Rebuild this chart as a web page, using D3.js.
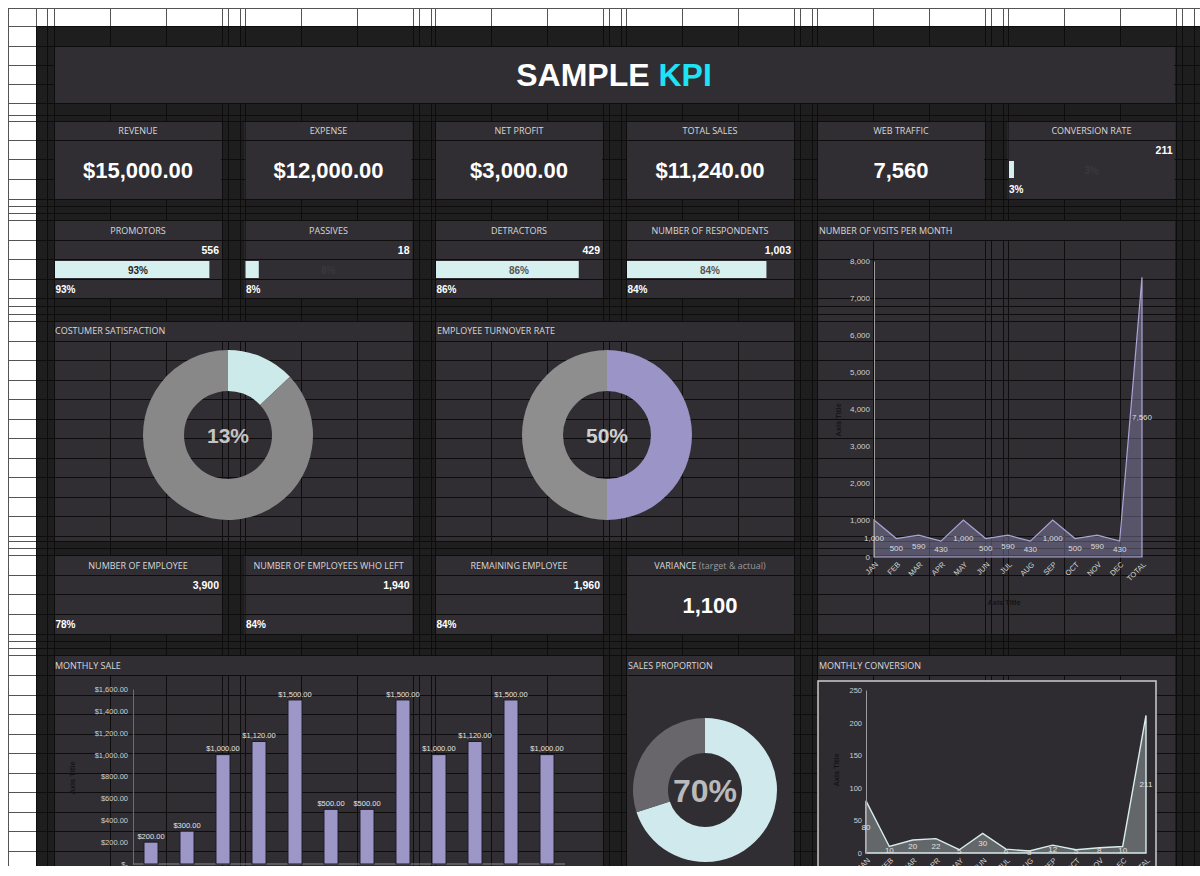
<!DOCTYPE html>
<html>
<head>
<meta charset="utf-8">
<script src="https://cdn.jsdelivr.net/npm/d3@7.9.0/dist/d3.min.js"></script>
<style>
  html, body { margin: 0; padding: 0; background: #fff; }
  svg { display: block; }
</style>
</head>
<body>
<svg id="chart" width="1200" height="876"></svg>
<script>
// ---- data ----
const months = ['JAN', 'FEB', 'MAR', 'APR', 'MAY', 'JUN', 'JUL', 'AUG', 'SEP', 'OCT', 'NOV', 'DEC'];
const trendCats = [...months, 'TOTAL'];

const headTitles = ['REVENUE', 'EXPENSE', 'NET PROFIT', 'TOTAL SALES', 'WEB TRAFFIC'];
const headValues = [15000, 12000, 3000, 11240, 7560];
const conversionCount = 211;
const conversionRate = 0.03;

const surveyTitles = ['PROMOTORS', 'PASSIVES', 'DETRACTORS', 'NUMBER OF RESPONDENTS'];
const surveyCounts = [556, 18, 429, 1003];
const surveyRates = [0.93, 0.08, 0.86, 0.84];

const staffTitles = ['NUMBER OF EMPLOYEE', 'NUMBER OF EMPLOYEES WHO LEFT', 'REMAINING EMPLOYEE'];
const staffCounts = [3900, 1940, 1960];
const staffRates = [0.78, 0.84, 0.84];
const variance = 1100;

const satisfaction = 0.13;
const turnover = 0.50;
const salesShare = 0.70;

const visits = [1000, 500, 590, 430, 1000, 500, 590, 430, 1000, 500, 590, 430, 7560];
const conversions = [80, 10, 20, 22, 5, 30, 6, 3, 12, 5, 8, 10, 211];
const monthlySales = [200, 300, 1000, 1120, 1500, 500, 500, 1500, 1000, 1120, 1500, 1000];

// ---- layout ----
const W = 1200, H = 876, BOTTOM = 866;
const FONT_T = "'Open Sans', 'DejaVu Sans', sans-serif";
const FONT_B = "'Liberation Sans', Arial, sans-serif";
const PANEL = '#302e33';
const cardX = [54, 244.5, 435, 626, 817, 1007.5];
const cardW = 168;

const hLines = [26, 46, 65, 84, 103, 115, 121, 140, 159, 179, 199, 206, 213, 220, 240, 259, 279, 298, 306,
  314, 321, 341, 360, 380, 399, 419, 438, 458, 477, 497, 516, 536, 541, 548, 555, 575, 594, 614, 634,
  641, 648, 655, 675, 695, 714, 734, 753, 773, 792, 812, 831, 851];
const vLines = [36, 47];
cardX.forEach(s => [0, 56, 112, 168, 174, 186].forEach(o => vLines.push(Math.round(s + o))));

const svg = d3.select('#chart');
svg.append('rect').attr('width', W).attr('height', H).attr('fill', '#fff');
svg.append('rect').attr('x', 36).attr('y', 26).attr('width', W - 36).attr('height', BOTTOM - 26).attr('fill', '#1e1e1e');

// sheet lines in the white margins
const sheet = svg.append('g').attr('stroke', '#555').attr('shape-rendering', 'crispEdges');
sheet.append('line').attr('x1', 8).attr('x2', W).attr('y1', 8).attr('y2', 8);
sheet.append('line').attr('x1', 8).attr('x2', 8).attr('y1', 8).attr('y2', BOTTOM);
hLines.forEach(y => sheet.append('line').attr('x1', 8).attr('x2', 36).attr('y1', y).attr('y2', y));
vLines.forEach(x => sheet.append('line').attr('x1', x).attr('x2', x).attr('y1', 8).attr('y2', 26));

// panels (cell fills)
const panels = [
  [54, 46, 1121, 57],
  ...cardX.map(s => [s, 121, cardW, 78]),
  ...cardX.slice(0, 4).map(s => [s, 220, cardW, 78]),
  [817, 220, 358, 414],
  [54, 321, 359, 220], [435, 321, 360, 220],
  ...cardX.slice(0, 4).map(s => [s, 555, cardW, 79]),
  [54, 655, 550, BOTTOM - 655], [626, 655, cardW, BOTTOM - 655], [817, 655, 358, BOTTOM - 655]
];
svg.append('g').selectAll('rect').data(panels).join('rect')
  .attr('x', d => d[0]).attr('y', d => d[1]).attr('width', d => d[2]).attr('height', d => d[3])
  .attr('fill', PANEL);

// cell borders over everything
const grid = svg.append('g').attr('stroke', '#0d0d0d').attr('shape-rendering', 'crispEdges');
hLines.forEach(y => grid.append('line').attr('x1', 36).attr('x2', W).attr('y1', y).attr('y2', y));
vLines.forEach(x => grid.append('line').attr('x1', x).attr('x2', x).attr('y1', 26).attr('y2', BOTTOM));

// merged cells hide the inner borders
function merged(x, w, rows) {
  rows.forEach(([y0, y1]) => svg.append('rect')
    .attr('x', x + 1).attr('y', y0 + 1).attr('width', w - 2).attr('height', y1 - y0 - 1)
    .attr('fill', PANEL));
}
merged(54, 1121, [[46, 103]]);
cardX.forEach(s => merged(s, cardW, [[121, 140], [140, 199]]));
cardX.slice(0, 4).forEach(s => merged(s, cardW, [[220, 240], [240, 259], [259, 279], [279, 298]]));
merged(817, 358, [[220, 240]]);
merged(54, 359, [[321, 341]]);
merged(435, 360, [[321, 341]]);
cardX.slice(0, 3).forEach(s => merged(s, cardW, [[555, 575], [575, 594], [594, 614], [614, 634]]));
merged(cardX[3], cardW, [[555, 575], [575, 634]]);
merged(54, 550, [[655, 675]]);
merged(626, cardW, [[655, 675], [675, BOTTOM]]);
merged(817, 358, [[655, 675]]);

// text helper
function label(x, y, s, o = {}) {
  return svg.append('text').attr('x', x).attr('y', y).attr('dy', '0.35em')
    .attr('text-anchor', o.anchor || 'start')
    .attr('font-family', o.font || FONT_T)
    .attr('font-size', o.size || 9)
    .attr('font-weight', o.weight || 'normal')
    .attr('fill', o.fill || '#d8d8d8')
    .text(s);
}

// title
const t = svg.append('text').attr('x', 614).attr('y', 75).attr('dy', '0.35em').attr('text-anchor', 'middle')
  .attr('font-family', FONT_B).attr('font-weight', 'bold').attr('font-size', 32);
t.append('tspan').attr('fill', '#ffffff').text('SAMPLE ');
t.append('tspan').attr('fill', '#1de3f4').text('KPI');

const money = d3.format('$,.2f');
const num = d3.format(',');
const pct = d3.format('.0%');
const barW = d3.scaleLinear().domain([0, 1]).range([0, cardW - 2]);

// row 1
headTitles.forEach((name, i) => {
  const s = cardX[i];
  label(s + cardW / 2, 130.5, name, { anchor: 'middle' });
  label(s + cardW / 2, 170, i < 4 ? money(headValues[i]) : num(headValues[i]),
    { anchor: 'middle', font: FONT_B, weight: 'bold', size: 22, fill: '#fff' });
});
{
  const s = cardX[5];
  label(s + cardW / 2, 130.5, 'CONVERSION RATE', { anchor: 'middle' });
  label(s + cardW - 3, 150, num(conversionCount), { anchor: 'end', font: FONT_B, weight: 'bold', size: 10.5, fill: '#fff' });
  svg.append('rect').attr('x', s + 1.5).attr('y', 161).attr('width', barW(conversionRate)).attr('height', 17).attr('fill', '#d6efef');
  label(s + cardW / 2, 170, pct(conversionRate), { anchor: 'middle', font: FONT_B, weight: 'bold', size: 10, fill: '#3a383d' });
  label(s + 1.5, 189, pct(conversionRate), { font: FONT_B, weight: 'bold', size: 10, fill: '#fff' });
}

// row 2 survey cards
const inBarFill = ['#262626', '#3a383d', '#555', '#555'];
surveyTitles.forEach((name, i) => {
  const s = cardX[i];
  label(s + cardW / 2, 230.5, name, { anchor: 'middle' });
  label(s + cardW - 3, 250, num(surveyCounts[i]), { anchor: 'end', font: FONT_B, weight: 'bold', size: 10.5, fill: '#fff' });
  svg.append('rect').attr('x', s + 1).attr('y', 261).attr('width', barW(surveyRates[i])).attr('height', 17).attr('fill', '#d6efef');
  label(s + cardW / 2, 270, pct(surveyRates[i]), { anchor: 'middle', font: FONT_B, weight: 'bold', size: 10, fill: inBarFill[i] });
  label(s + 1.5, 289, pct(surveyRates[i]), { font: FONT_B, weight: 'bold', size: 10, fill: '#fff' });
});

// row 4 staff cards
staffTitles.forEach((name, i) => {
  const s = cardX[i];
  label(s + cardW / 2, 565.5, name, { anchor: 'middle' });
  label(s + cardW - 3, 585, num(staffCounts[i]), { anchor: 'end', font: FONT_B, weight: 'bold', size: 10.5, fill: '#fff' });
  label(s + 1.5, 624, pct(staffRates[i]), { font: FONT_B, weight: 'bold', size: 10, fill: '#fff' });
});
{
  const s = cardX[3];
  const v = svg.append('text').attr('x', s + cardW / 2).attr('y', 565.5).attr('dy', '0.35em').attr('text-anchor', 'middle')
    .attr('font-family', FONT_T).attr('font-size', 9);
  v.append('tspan').attr('fill', '#d8d8d8').text('VARIANCE ');
  v.append('tspan').attr('fill', '#9a9a9a').text('(target & actual)');
  label(s + cardW / 2, 605, num(variance), { anchor: 'middle', font: FONT_B, weight: 'bold', size: 22, fill: '#fff' });
}

// panel titles
label(55, 331, 'COSTUMER SATISFACTION');
label(437, 331, 'EMPLOYEE TURNOVER RATE');
label(819, 230.5, 'NUMBER OF VISITS PER MONTH');
label(55, 665.5, 'MONTHLY SALE');
label(628, 665.5, 'SALES PROPORTION');
label(819, 665.5, 'MONTHLY CONVERSION');

// donuts
function donut(cx, cy, r0, r1, share, colors, textSize, textFill) {
  const pie = d3.pie().sort(null).value(d => d);
  const arc = d3.arc().innerRadius(r0).outerRadius(r1);
  const g = svg.append('g').attr('transform', `translate(${cx},${cy})`);
  g.selectAll('path').data(pie([share, 1 - share])).join('path')
    .attr('d', arc).attr('fill', (d, i) => colors[i]);
  g.append('text').attr('text-anchor', 'middle').attr('dy', '0.36em')
    .attr('font-family', FONT_B).attr('font-weight', 'bold').attr('font-size', textSize)
    .attr('fill', textFill).text(pct(share));
}
donut(228, 435, 44, 85, satisfaction, ['#cdeaea', '#888888'], 21, '#c4c4c4');
donut(607, 435, 44, 85, turnover, ['#9a95c6', '#8e8e8e'], 21, '#cfcfcf');
donut(705, 790, 37, 72, salesShare, ['#cfe9ec', '#68666b'], 32, '#bababa');

// axis styling
function styleAxis(g, size) {
  g.select('.domain').attr('stroke', '#9c9c9c');
  g.selectAll('text').attr('fill', '#cfcfcf').attr('font-size', size).attr('font-family', FONT_B);
}
function axisTitle(x, y, rot) {
  svg.append('text').attr('transform', `translate(${x},${y}) rotate(${rot})`)
    .attr('text-anchor', 'middle').attr('dy', '0.35em')
    .attr('font-family', FONT_B).attr('font-weight', 'bold').attr('font-size', 7.5)
    .attr('fill', '#141414').text('Axis Title');
}

// number of visits per month
{
  const x = d3.scalePoint().domain(trendCats).range([874, 1142]);
  const y = d3.scaleLinear().domain([0, 8000]).range([557, 261]);
  const rows = trendCats.map((c, i) => ({ c, v: visits[i] }));
  svg.append('path').datum(rows)
    .attr('d', d3.area().x(d => x(d.c)).y0(y(0)).y1(d => y(d.v)))
    .attr('fill', '#9a95c8').attr('fill-opacity', 0.38)
    .attr('stroke', '#aaa5d4').attr('stroke-width', 1.2);
  const ya = svg.append('g').attr('transform', 'translate(874,0)')
    .call(d3.axisLeft(y).tickValues(d3.range(0, 8001, 1000)).tickSize(0).tickSizeOuter(0).tickPadding(4).tickFormat(num));
  styleAxis(ya, 8);
  const xa = svg.append('g').attr('transform', 'translate(0,557)')
    .call(d3.axisBottom(x).tickSize(0).tickSizeOuter(0));
  xa.select('.domain').remove();
  xa.selectAll('text').attr('fill', '#d4d4d4').attr('font-size', 7.5).attr('font-family', FONT_B)
    .attr('text-anchor', 'end').attr('dy', 0).attr('y', 0)
    .attr('transform', 'translate(4,8) rotate(-45)');
  svg.append('g').selectAll('text').data(rows).join('text')
    .attr('x', d => x(d.c)).attr('y', d => (y(d.v) + y(0)) / 2).attr('dy', '0.35em')
    .attr('text-anchor', 'middle').attr('font-family', FONT_B).attr('font-size', 8).attr('fill', '#dcdcdc')
    .text(d => num(d.v));
  axisTitle(838, 420, -90);
  axisTitle(1004, 602, 0);
}

// monthly sale
{
  const x = d3.scaleBand().domain(months).range([133, 565]).paddingInner(0.61).paddingOuter(0.305);
  const y = d3.scaleLinear().domain([0, 1600]).range([864, 689]);
  const ya = svg.append('g').attr('transform', 'translate(133,0)')
    .call(d3.axisLeft(y).tickValues(d3.range(0, 1601, 200)).tickSize(0).tickSizeOuter(0).tickPadding(5)
      .tickFormat(v => v === 0 ? '$-' : money(v)));
  styleAxis(ya, 7.5);
  ya.select('.domain').attr('stroke', '#6e6c72');
  svg.append('line').attr('x1', 133).attr('x2', 565).attr('y1', 864).attr('y2', 864).attr('stroke', '#8a888e');
  svg.append('g').selectAll('rect').data(monthlySales).join('rect')
    .attr('x', (d, i) => x(months[i])).attr('y', d => y(d))
    .attr('width', x.bandwidth()).attr('height', d => y(0) - y(d))
    .attr('fill', '#9c97c7').attr('stroke', '#1d1c26').attr('stroke-width', 1);
  svg.append('g').selectAll('text').data(monthlySales).join('text')
    .attr('x', (d, i) => x(months[i]) + x.bandwidth() / 2).attr('y', d => y(d) - 6).attr('dy', '0.35em')
    .attr('text-anchor', 'middle').attr('font-family', FONT_B).attr('font-size', 7.5).attr('fill', '#e4e4e4')
    .text(d => money(d));
  axisTitle(72, 778, -90);
}

// monthly conversion
{
  svg.append('rect').attr('x', 818).attr('y', 681).attr('width', 338).attr('height', 200)
    .attr('fill', '#2e2c31').attr('stroke', '#cdcdcd').attr('stroke-width', 1.5);
  const x = d3.scalePoint().domain(trendCats).range([866, 1146]);
  const y = d3.scaleLinear().domain([0, 250]).range([853, 690]);
  const rows = trendCats.map((c, i) => ({ c, v: conversions[i] }));
  svg.append('path').datum(rows)
    .attr('d', d3.area().x(d => x(d.c)).y0(y(0)).y1(d => y(d.v)))
    .attr('fill', '#a4b0b0').attr('fill-opacity', 0.45)
    .attr('stroke', '#d8ecec').attr('stroke-width', 1.4);
  const ya = svg.append('g').attr('transform', 'translate(866,0)')
    .call(d3.axisLeft(y).tickValues(d3.range(0, 251, 50)).tickSize(0).tickSizeOuter(0).tickPadding(4));
  styleAxis(ya, 7.5);
  const xa = svg.append('g').attr('transform', 'translate(0,853)')
    .call(d3.axisBottom(x).tickSize(0).tickSizeOuter(0));
  xa.select('.domain').remove();
  xa.selectAll('text').attr('fill', '#d4d4d4').attr('font-size', 7.5).attr('font-family', FONT_B)
    .attr('text-anchor', 'end').attr('dy', 0).attr('y', 0)
    .attr('transform', 'translate(4,8) rotate(-45)');
  svg.append('g').selectAll('text').data(rows).join('text')
    .attr('x', d => x(d.c)).attr('y', d => (y(d.v) + y(0)) / 2).attr('dy', '0.35em')
    .attr('text-anchor', 'middle').attr('font-family', FONT_B).attr('font-size', 8).attr('fill', '#e0e0e0')
    .text(d => num(d.v));
  axisTitle(836, 770, -90);
}

// page edge below the sheet
svg.append('rect').attr('x', 0).attr('y', BOTTOM).attr('width', W).attr('height', H - BOTTOM).attr('fill', '#fff');
</script>
</body>
</html>
